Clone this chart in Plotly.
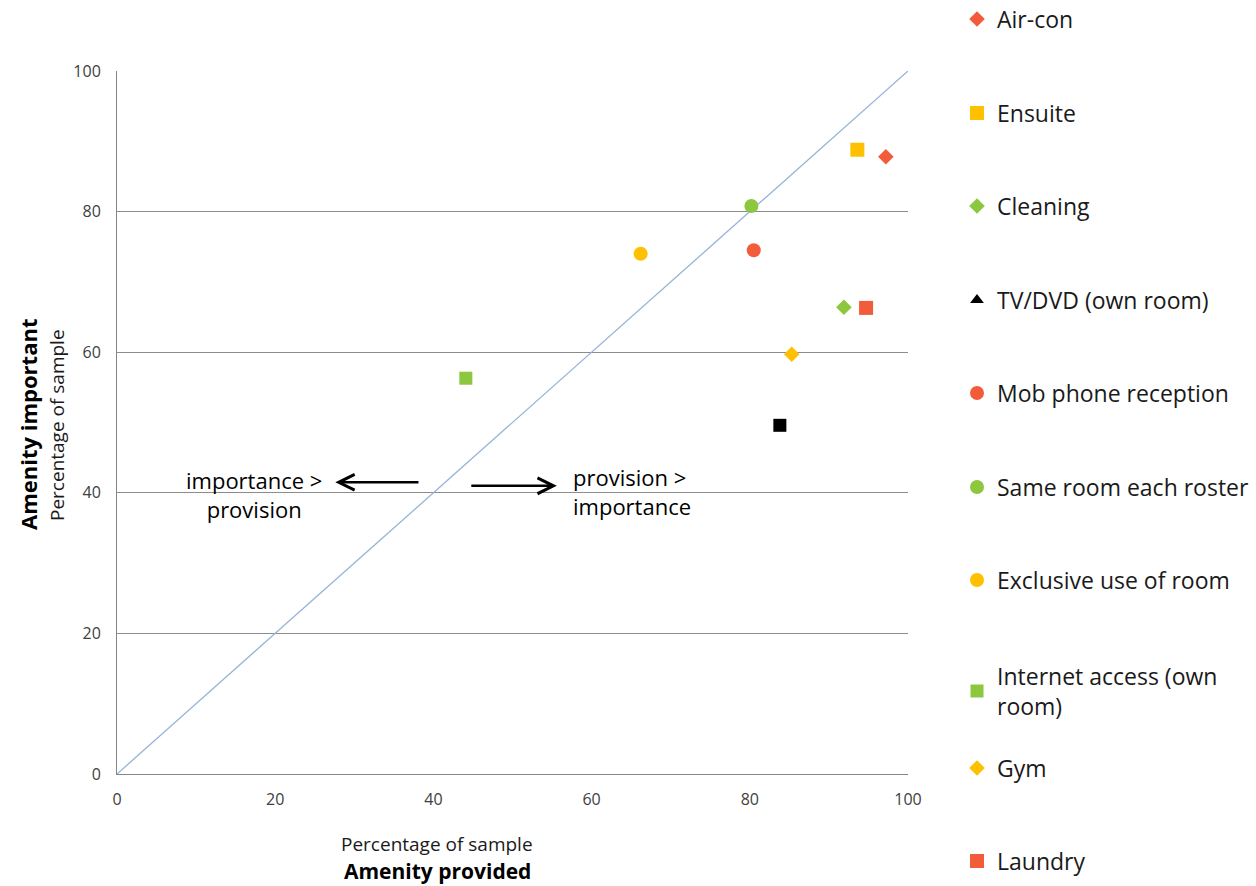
import plotly.graph_objects as go

names = ["Air-con", "Ensuite", "Cleaning", "TV/DVD (own room)", "Mob phone reception",
         "Same room each roster", "Exclusive use of room", "Internet access (own<br>room)",
         "Gym", "Laundry"]
provided = [97.2, 93.6, 91.9, 83.8, 80.5, 80.2, 66.2, 44.1, 85.3, 94.7]
important = [87.8, 88.8, 66.4, 49.6, 74.5, 80.8, 74.0, 56.3, 59.7, 66.3]
symbols = ["diamond", "square", "diamond", "square", "circle", "circle", "circle", "square", "diamond", "square"]
legend_symbols = ["diamond", "square", "diamond", "triangle-up", "circle", "circle", "circle", "square", "diamond", "square"]
colors = ["#F25C3B", "#FFC000", "#8DC63F", "#000000", "#F25C3B", "#8DC63F", "#FFC000", "#8DC63F", "#FFC000", "#F25C3B"]
sizes = [12, 14, 12, 13, 14, 14, 14, 13, 12, 14]
legend_y_px = [19, 113, 206, 300, 393, 487, 580, 691, 768, 861]

diag_x = [0, 100]
diag_y = [0, 100]

L, R, T, B = 117, 908, 71, 774   # target pixels of the plot area
W, H = 1256, 886

fig = go.Figure()
fig.add_trace(go.Scatter(x=diag_x, y=diag_y, mode="lines",
                         line=dict(color="#95B3D7", width=1.3),
                         showlegend=False, hoverinfo="skip"))

FONT = "'Open Sans', Lato, sans-serif"
for i, n in enumerate(names):
    lg = "legend" if i == 0 else f"legend{i+1}"
    same = symbols[i] == legend_symbols[i]
    fig.add_trace(go.Scatter(x=[provided[i]], y=[important[i]], mode="markers", name=n,
                             marker=dict(symbol=symbols[i], color=colors[i], size=sizes[i]),
                             showlegend=same, legend=lg))
    if not same:
        fig.add_trace(go.Scatter(x=[None], y=[None], mode="markers", name=n,
                                 marker=dict(symbol=legend_symbols[i], color=colors[i], size=12),
                                 showlegend=True, legend=lg))
    fig.update_layout(**{lg: dict(xref="container", yref="container",
                                  x=(997 - 40) / W, xanchor="left",
                                  y=1 - legend_y_px[i] / H, yanchor="middle",
                                  bgcolor="rgba(0,0,0,0)", font=dict(family=FONT, size=23, color="#1a1a1a"),
                                  itemclick=False)})

axis_common = dict(range=[0, 100], dtick=20, showline=True, linecolor="#868686", linewidth=1,
                   ticks="", tickfont=dict(family=FONT, size=16, color="#404040"), zeroline=False,
                   fixedrange=True)
fig.update_xaxes(**axis_common, showgrid=False, ticklabelstandoff=11)
fig.update_yaxes(**axis_common, showgrid=True, gridcolor="#8c8c8c", gridwidth=1, ticklabelstandoff=12)

ann = []
ann.append(dict(x=27.6, y=41.5, ax=38.3, ay=41.5, xref="x", yref="y", axref="x", ayref="y",
                showarrow=True, arrowhead=5, arrowsize=1.2, arrowwidth=2.6, arrowcolor="#000", text=""))
ann.append(dict(x=55.6, y=41.0, ax=44.6, ay=41.0, xref="x", yref="y", axref="x", ayref="y",
                showarrow=True, arrowhead=5, arrowsize=1.2, arrowwidth=2.6, arrowcolor="#000", text=""))
ann.append(dict(x=(253.5 - L) / 7.91, y=(774 - 494) / 7.03, xref="x", yref="y", showarrow=False, align="center",
                text="importance ><br>provision", font=dict(family=FONT, size=22, color="#000")))
ann.append(dict(x=(571 - L) / 7.91, y=(774 - 491.5) / 7.03, xref="x", yref="y", showarrow=False, align="left",
                xanchor="left", text="provision ><br>importance", font=dict(family=FONT, size=22, color="#000")))
# axis titles
ann.append(dict(x=(437 - L) / (R - L), y=-(844 - B) / (B - T), xref="paper", yref="paper", showarrow=False,
                xanchor="center", yanchor="middle",
                text="Percentage of sample", font=dict(family=FONT, size=19, color="#1a1a1a")))
ann.append(dict(x=(437 - L) / (R - L), y=-(871 - B) / (B - T), xref="paper", yref="paper", showarrow=False,
                xanchor="center", yanchor="middle",
                text="<b>Amenity provided</b>", font=dict(family=FONT, size=21, color="#000")))
ann.append(dict(x=-(L - 28) / (R - L), y=(B - 425) / (B - T), xref="paper", yref="paper", showarrow=False,
                xanchor="center", yanchor="middle",
                textangle=-90, text="<b>Amenity important</b>", font=dict(family=FONT, size=22, color="#000")))
ann.append(dict(x=-(L - 57) / (R - L), y=(B - 425) / (B - T), xref="paper", yref="paper", showarrow=False,
                xanchor="center", yanchor="middle",
                textangle=-90, text="Percentage of sample", font=dict(family=FONT, size=19, color="#1a1a1a")))

fig.update_layout(width=W, height=H,
                  margin=dict(l=L, r=W - R, t=T, b=H - B, autoexpand=False),
                  plot_bgcolor="white", paper_bgcolor="white", annotations=ann,
                  font=dict(family=FONT))
fig.write_html("out.html", config={"displayModeBar": False},
               post_script="document.body.style.margin='0';document.body.style.overflow='hidden';")
